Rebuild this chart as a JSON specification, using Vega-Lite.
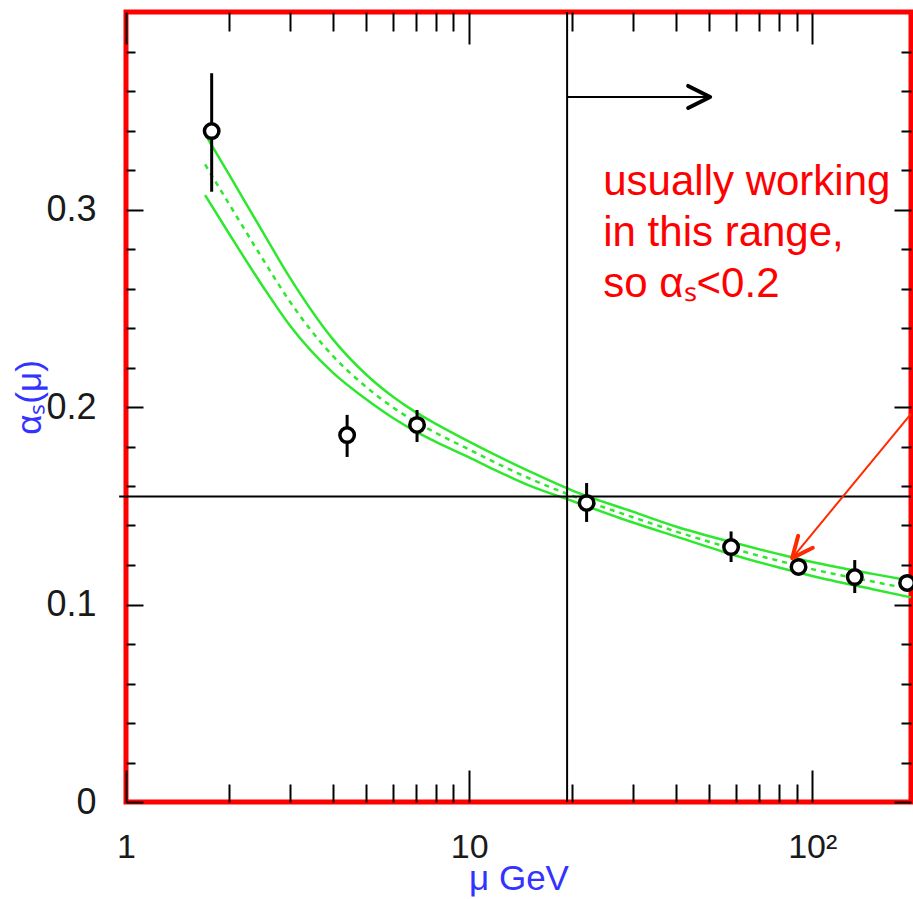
{
  "$schema": "https://vega.github.io/schema/vega-lite/v6.json",
  "width": 785,
  "height": 790,
  "autosize": "none",
  "padding": {"left": 126, "top": 12, "right": 2, "bottom": 97},
  "background": "white",
  "config": {
    "view": {"stroke": "#ff0000", "strokeWidth": 5},
    "axis": {
      "domain": false,
      "grid": false,
      "tickColor": "#000000",
      "tickWidth": 2,
      "labelFont": "Liberation Sans",
      "labelColor": "#1a1a1a",
      "labelFlush": false,
      "labelOverlap": false,
      "labelBound": false,
      "titleFont": "Liberation Sans",
      "titleFontWeight": "normal",
      "titleColor": "#3333ff",
      "titleFontSize": 35
    }
  },
  "datasets": {
    "band": [
      {"mu": 1.7, "upper": 0.3382, "lower": 0.3073, "mid": 0.3228},
      {"mu": 2, "upper": 0.3175, "lower": 0.2876, "mid": 0.3026},
      {"mu": 2.5, "upper": 0.2888, "lower": 0.2613, "mid": 0.2751},
      {"mu": 3, "upper": 0.2656, "lower": 0.2414, "mid": 0.2535},
      {"mu": 4, "upper": 0.2345, "lower": 0.2175, "mid": 0.226},
      {"mu": 5, "upper": 0.2166, "lower": 0.204, "mid": 0.2103},
      {"mu": 6, "upper": 0.2052, "lower": 0.1944, "mid": 0.1998},
      {"mu": 7, "upper": 0.1973, "lower": 0.1875, "mid": 0.1924},
      {"mu": 8, "upper": 0.1915, "lower": 0.1823, "mid": 0.1869},
      {"mu": 10, "upper": 0.1825, "lower": 0.1745, "mid": 0.1785},
      {"mu": 12, "upper": 0.1755, "lower": 0.1678, "mid": 0.1716},
      {"mu": 15, "upper": 0.1674, "lower": 0.1602, "mid": 0.1638},
      {"mu": 20, "upper": 0.1577, "lower": 0.1524, "mid": 0.155},
      {"mu": 30, "upper": 0.147, "lower": 0.1415, "mid": 0.1442},
      {"mu": 40, "upper": 0.1395, "lower": 0.1345, "mid": 0.137},
      {"mu": 60, "upper": 0.131, "lower": 0.1247, "mid": 0.1278},
      {"mu": 80, "upper": 0.1255, "lower": 0.1187, "mid": 0.1221},
      {"mu": 100, "upper": 0.1215, "lower": 0.1144, "mid": 0.1179},
      {"mu": 150, "upper": 0.1155, "lower": 0.1077, "mid": 0.1116},
      {"mu": 194, "upper": 0.112, "lower": 0.1036, "mid": 0.1078}
    ],
    "points": [
      {"mu": 1.777, "alpha": 0.3397, "lo": 0.309, "hi": 0.369},
      {"mu": 4.41, "alpha": 0.1858, "lo": 0.1747, "hi": 0.196},
      {"mu": 7.05, "alpha": 0.1909, "lo": 0.1823, "hi": 0.1985},
      {"mu": 22, "alpha": 0.1514, "lo": 0.1418, "hi": 0.1615},
      {"mu": 58, "alpha": 0.1291, "lo": 0.1215, "hi": 0.137},
      {"mu": 91.2, "alpha": 0.119, "lo": 0.116, "hi": 0.122},
      {"mu": 133, "alpha": 0.1139, "lo": 0.1058, "hi": 0.1225},
      {"mu": 189, "alpha": 0.1109, "lo": 0.107, "hi": 0.115}
    ]
  },
  "resolve": {
    "scale": {"x": "shared", "y": "shared"},
    "axis": {"x": "independent", "y": "independent"}
  },
  "layer": [
    {
      "data": {"name": "band"},
      "mark": {"type": "line", "color": "#2ee82e", "strokeWidth": 2.5, "interpolate": "monotone"},
      "encoding": {
        "x": {
          "field": "mu", "type": "quantitative",
          "scale": {"type": "log", "domain": [1, 194], "nice": false},
          "axis": {
            "orient": "bottom", "values": [1, 10, 100], "tickSize": -32,
            "labelPadding": 87, "labelBaseline": "alphabetic", "labelFontSize": 34,
            "labelExpr": "datum.value == 100 ? '10²' : datum.value == 10 ? '10' : '1'",
            "title": "μ GeV", "titleY": 87, "titleBaseline": "alphabetic"
          }
        },
        "y": {
          "field": "upper", "type": "quantitative",
          "scale": {"domain": [0, 0.4], "nice": false, "zero": false},
          "axis": {
            "orient": "left", "values": [0, 0.1, 0.2, 0.3], "tickSize": -17,
            "labelPadding": 47, "labelFontSize": 36,
            "labelExpr": "datum.value == 0 ? '0' : format(datum.value, '.1f')",
            "title": "αₛ(μ)", "titleX": -97, "titleY": 385, "titleAngle": -90,
            "titleBaseline": "middle"
          }
        }
      }
    },
    {
      "data": {"name": "band"},
      "mark": {"type": "line", "color": "#2ee82e", "strokeWidth": 2.5, "interpolate": "monotone"},
      "encoding": {
        "x": {
          "field": "mu", "type": "quantitative",
          "scale": {"type": "log", "domain": [1, 194], "nice": false},
          "axis": {
            "orient": "bottom", "values": [2, 3, 4, 5, 6, 7, 8, 9, 20, 30, 40, 50, 60, 70, 80, 90],
            "tickSize": -18, "labels": false, "title": null
          }
        },
        "y": {
          "field": "lower", "type": "quantitative",
          "scale": {"domain": [0, 0.4], "nice": false, "zero": false},
          "axis": {
            "orient": "left",
            "values": [0.02, 0.04, 0.06, 0.08, 0.12, 0.14, 0.16, 0.18, 0.22, 0.24, 0.26, 0.28, 0.32, 0.34, 0.36, 0.38],
            "tickSize": -9, "labels": false, "title": null
          }
        }
      }
    },
    {
      "data": {"name": "band"},
      "mark": {"type": "line", "color": "#2ee82e", "strokeWidth": 2.5, "strokeDash": [5, 5], "interpolate": "monotone"},
      "encoding": {
        "x": {
          "field": "mu", "type": "quantitative",
          "scale": {"type": "log", "domain": [1, 194], "nice": false},
          "axis": {
            "orient": "top", "values": [1, 10, 100],
            "tickSize": -32, "labels": false, "title": null
          }
        },
        "y": {
          "field": "mid", "type": "quantitative",
          "scale": {"domain": [0, 0.4], "nice": false, "zero": false},
          "axis": {
            "orient": "right", "values": [0, 0.1, 0.2, 0.3],
            "tickSize": -17, "labels": false, "title": null
          }
        }
      }
    },
    {
      "data": {"name": "points"},
      "mark": {"type": "rule", "color": "#000000", "strokeWidth": 3},
      "encoding": {
        "x": {
          "field": "mu", "type": "quantitative",
          "scale": {"type": "log", "domain": [1, 194], "nice": false},
          "axis": {
            "orient": "top", "values": [2, 3, 4, 5, 6, 7, 8, 9, 20, 30, 40, 50, 60, 70, 80, 90],
            "tickSize": -19, "labels": false, "title": null
          }
        },
        "y": {
          "field": "lo", "type": "quantitative",
          "scale": {"domain": [0, 0.4], "nice": false, "zero": false},
          "axis": {
            "orient": "right",
            "values": [0.02, 0.04, 0.06, 0.08, 0.12, 0.14, 0.16, 0.18, 0.22, 0.24, 0.26, 0.28, 0.32, 0.34, 0.36, 0.38],
            "tickSize": -10, "labels": false, "title": null
          }
        },
        "y2": {"field": "hi"}
      }
    },
    {
      "data": {"name": "points"},
      "mark": {"type": "point", "shape": "circle", "size": 210, "filled": true, "fill": "#ffffff", "stroke": "#000000", "strokeWidth": 3.5, "opacity": 1},
      "encoding": {
        "x": {"field": "mu", "type": "quantitative", "scale": {"type": "log", "domain": [1, 194], "nice": false}, "axis": null},
        "y": {"field": "alpha", "type": "quantitative", "scale": {"domain": [0, 0.4], "nice": false, "zero": false}, "axis": null}
      }
    },
    {
      "data": {"values": [{"y": 0.1547, "x1": 0.955, "x2": 194}]},
      "mark": {"type": "rule", "color": "#000000", "strokeWidth": 2},
      "encoding": {
        "x": {"field": "x1", "type": "quantitative", "scale": {"type": "log", "domain": [1, 194], "nice": false}, "axis": null},
        "x2": {"field": "x2"},
        "y": {"field": "y", "type": "quantitative", "scale": {"domain": [0, 0.4], "nice": false, "zero": false}, "axis": null}
      }
    },
    {
      "data": {"values": [{"x": 19.3}]},
      "mark": {"type": "rule", "color": "#000000", "strokeWidth": 2},
      "encoding": {
        "x": {"field": "x", "type": "quantitative", "scale": {"type": "log", "domain": [1, 194], "nice": false}, "axis": null}
      }
    },
    {
      "data": {"values": [{"x1": 19.3, "x2": 50.4, "y": 0.357}]},
      "mark": {"type": "rule", "color": "#000000", "strokeWidth": 2},
      "encoding": {
        "x": {"field": "x1", "type": "quantitative", "scale": {"type": "log", "domain": [1, 194], "nice": false}, "axis": null},
        "x2": {"field": "x2"},
        "y": {"field": "y", "type": "quantitative", "scale": {"domain": [0, 0.4], "nice": false, "zero": false}, "axis": null}
      }
    },
    {
      "data": {"values": [{"x": 50.4, "y": 0.357}]},
      "mark": {"type": "point", "shape": "M -2 -1 L 0 0 L -2 1", "size": 484, "filled": false, "stroke": "#000000", "strokeWidth": 4, "strokeCap": "round", "strokeJoin": "round", "opacity": 1},
      "encoding": {
        "x": {"field": "x", "type": "quantitative", "scale": {"type": "log", "domain": [1, 194], "nice": false}, "axis": null},
        "y": {"field": "y", "type": "quantitative", "scale": {"domain": [0, 0.4], "nice": false, "zero": false}, "axis": null}
      }
    },
    {
      "data": {"values": [{"x1": 194, "y1": 0.1965, "x2": 87.4, "y2": 0.1235}]},
      "mark": {"type": "rule", "color": "#ff2a00", "strokeWidth": 2},
      "encoding": {
        "x": {"field": "x1", "type": "quantitative", "scale": {"type": "log", "domain": [1, 194], "nice": false}, "axis": null},
        "x2": {"field": "x2"},
        "y": {"field": "y1", "type": "quantitative", "scale": {"domain": [0, 0.4], "nice": false, "zero": false}, "axis": null},
        "y2": {"field": "y2"}
      }
    },
    {
      "data": {"values": [{"x": 87.4, "y": 0.1235}]},
      "mark": {"type": "point", "shape": "M -2 -0.9 L 0 0 L -2 0.9", "size": 440, "angle": 129.3, "filled": false, "stroke": "#ff2a00", "strokeWidth": 4, "strokeCap": "round", "strokeJoin": "round", "opacity": 1},
      "encoding": {
        "x": {"field": "x", "type": "quantitative", "scale": {"type": "log", "domain": [1, 194], "nice": false}, "axis": null},
        "y": {"field": "y", "type": "quantitative", "scale": {"domain": [0, 0.4], "nice": false, "zero": false}, "axis": null}
      }
    },
    {
      "data": {"values": [{"x": 24.6, "y": 0.3073, "label": "usually working\nin this range,\nso αₛ<0.2"}]},
      "mark": {"type": "text", "align": "left", "baseline": "alphabetic", "font": "Liberation Sans", "fontSize": 42, "lineHeight": 51, "lineBreak": "\n", "color": "#ff0000"},
      "encoding": {
        "x": {"field": "x", "type": "quantitative", "scale": {"type": "log", "domain": [1, 194], "nice": false}, "axis": null},
        "y": {"field": "y", "type": "quantitative", "scale": {"domain": [0, 0.4], "nice": false, "zero": false}, "axis": null},
        "text": {"field": "label"}
      }
    }
  ]
}
